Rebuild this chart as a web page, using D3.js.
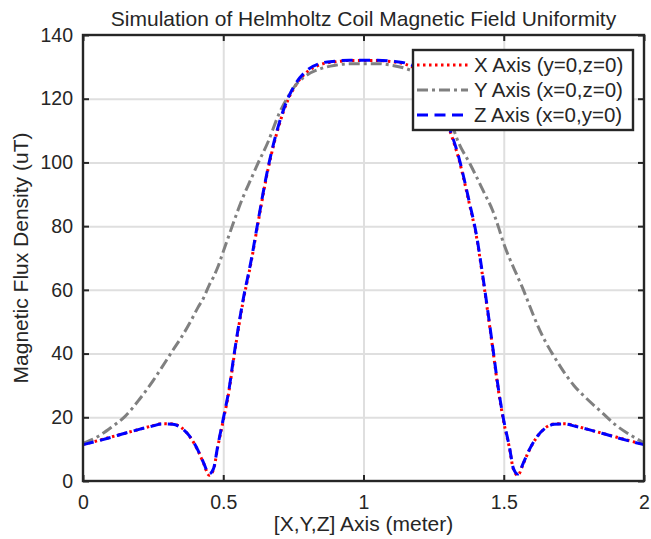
<!DOCTYPE html>
<html>
<head>
<meta charset="utf-8">
<script src="https://cdn.jsdelivr.net/npm/d3@7"></script>
<style>
  body { margin: 0; background: #fff; }
  svg text { font-family: "Liberation Sans", Arial, sans-serif; fill: #262626; }
</style>
</head>
<body>
<svg id="chart" width="651" height="539"></svg>
<script>
// positions along the axis (meter)
var positions = [0, 0.05, 0.1, 0.15, 0.2, 0.25, 0.28, 0.32, 0.35, 0.38, 0.41, 0.43, 0.45, 0.465, 0.48, 0.5,
    0.52, 0.54, 0.57, 0.6, 0.62, 0.66, 0.7, 0.73, 0.76, 0.8, 0.85, 0.9, 0.95, 1.0,
    1.05, 1.1, 1.15, 1.2, 1.24, 1.27, 1.3, 1.34, 1.38, 1.4, 1.43, 1.46, 1.48, 1.5,
    1.52, 1.535, 1.55, 1.57, 1.59, 1.62, 1.65, 1.68, 1.72, 1.75, 1.8, 1.85, 1.9, 1.95, 2.0];

var xAxisField = [11.5, 12.6, 13.8, 15.0, 16.2, 17.4, 18.0, 17.9, 16.8, 14.0, 9.5, 5.5, 1.8, 3.5, 10.5, 19,
    28, 40, 56, 69, 79, 98, 112, 119.5, 124.5, 128.5, 130.8, 131.6, 132, 132,
    132, 131.6, 130.8, 128.5, 124.5, 119.5, 112, 101, 86, 78, 61, 42, 29, 18.5,
    10.5, 3.5, 1.8, 5.5, 9.5, 14.0, 16.8, 17.9, 18.0, 17.4, 16.2, 15.0, 13.8, 12.6, 11.5];

var yAxisField = [11.8, 13.8, 16.8, 20.3, 25.5, 31.5, 35.5, 41, 45, 49.5, 54.5, 57.5, 61.5, 64, 67, 72,
    77, 82, 89, 95, 99, 106.5, 115.5, 120.5, 124.5, 127.5, 129.5, 130.5, 131, 131,
    131, 130.5, 129.5, 127.5, 124.5, 120.5, 115.5, 106, 99.5, 96, 90.5, 85, 80, 74.5,
    70, 67, 64, 60, 55.5, 49, 43.5, 39, 33.5, 30, 25.5, 21.5, 17.5, 14.5, 12];

var zAxisField = [11.4, 12.5, 13.7, 15.0, 16.2, 17.3, 17.9, 17.8, 16.7, 14.1, 9.6, 5.7, 2.2, 3.8, 10.8, 19.5,
    28.5, 40.5, 56.5, 69.5, 79.5, 98.5, 112.5, 120, 125, 129, 131.2, 131.8, 132.1, 132.1,
    132.1, 131.8, 131.2, 129, 125, 120, 112.5, 101.5, 86.5, 78.5, 61.5, 42.5, 29.5, 19,
    10.8, 3.8, 2.2, 5.7, 9.6, 14.1, 16.7, 17.8, 17.9, 17.3, 16.2, 15.0, 13.7, 12.5, 11.4];

var xTicks = [0, 0.5, 1, 1.5, 2];
var xTickLabels = ["0", "0.5", "1", "1.5", "2"];
var yTicks = [0, 20, 40, 60, 80, 100, 120, 140];

var seriesNames = ["X Axis (y=0,z=0)", "Y Axis (x=0,z=0)", "Z Axis (x=0,y=0)"];

function render() {
    var svg = d3.select("#chart");
    var mLeft = 83, mRight = 644, mTop = 35, mBottom = 481;
    var width = mRight - mLeft, height = mBottom - mTop;
    var ink = "#262626";

    var xs = d3.scaleLinear().domain([0, 2]).range([0, width]);
    var ys = d3.scaleLinear().domain([0, 140]).range([height, 0]);

    var g = svg.append("g").attr("transform", "translate(" + mLeft + "," + mTop + ")");

    // grid
    g.append("g").attr("class", "grid")
        .attr("transform", "translate(0," + height + ")")
        .call(d3.axisBottom(xs).tickValues(xTicks.slice(1, -1)).tickSize(-height).tickFormat(""));
    g.append("g").attr("class", "grid")
        .call(d3.axisLeft(ys).tickValues(yTicks.slice(1, -1)).tickSize(-width).tickFormat(""));
    g.selectAll(".grid .domain").remove();
    g.selectAll(".grid line").attr("stroke", "#dfdfdf").attr("stroke-width", 2);

    // curves
    var styles = [
        { data: xAxisField, color: "#ff0000", dash: "2.5,3.5" },
        { data: yAxisField, color: "#808080", dash: "11,4,3,4" },
        { data: zAxisField, color: "#0000ff", dash: "11,6.5" }
    ];
    var line = d3.line()
        .x(function(d) { return xs(d[0]); })
        .y(function(d) { return ys(d[1]); })
        .curve(d3.curveMonotoneX);

    styles.forEach(function(s) {
        g.append("path")
            .datum(positions.map(function(p, i) { return [p, s.data[i]]; }))
            .attr("fill", "none")
            .attr("stroke", s.color)
            .attr("stroke-width", 3)
            .attr("stroke-dasharray", s.dash)
            .attr("d", line);
    });

    // axes
    var axB = g.append("g").attr("transform", "translate(0," + height + ")")
        .call(d3.axisBottom(xs).tickValues(xTicks).tickSizeInner(-6).tickSizeOuter(0).tickPadding(14)
            .tickFormat(function(d, i) { return xTickLabels[i]; }));
    var axT = g.append("g")
        .call(d3.axisTop(xs).tickValues(xTicks).tickSizeInner(-6).tickSizeOuter(0).tickFormat(""));
    var axL = g.append("g")
        .call(d3.axisLeft(ys).tickValues(yTicks).tickSizeInner(-6).tickSizeOuter(0).tickPadding(10));
    var axR = g.append("g").attr("transform", "translate(" + width + ",0)")
        .call(d3.axisRight(ys).tickValues(yTicks).tickSizeInner(-6).tickSizeOuter(0).tickFormat(""));

    [axB, axT, axL, axR].forEach(function(a) {
        a.selectAll(".domain").remove();
        a.selectAll("line").attr("stroke", ink).attr("stroke-width", 2);
        a.selectAll("text").attr("font-size", 19.5).attr("fill", ink)
            .attr("font-family", "Liberation Sans, Arial, sans-serif");
    });

    g.append("rect")
        .attr("width", width).attr("height", height)
        .attr("fill", "none").attr("stroke", ink).attr("stroke-width", 2.4);

    // titles
    svg.append("text")
        .attr("x", mLeft + width / 2).attr("y", 26)
        .attr("text-anchor", "middle").attr("font-size", 21)
        .text("Simulation of Helmholtz Coil Magnetic Field Uniformity");

    svg.append("text")
        .attr("x", mLeft + width / 2).attr("y", 531)
        .attr("text-anchor", "middle").attr("font-size", 21)
        .text("[X,Y,Z] Axis (meter)");

    svg.append("text")
        .attr("transform", "translate(28," + (mTop + height / 2) + ") rotate(-90)")
        .attr("text-anchor", "middle").attr("font-size", 21)
        .text("Magnetic Flux Density (uT)");

    // legend
    var lg = svg.append("g").attr("transform", "translate(413,50)");
    lg.append("rect")
        .attr("width", 220).attr("height", 80)
        .attr("fill", "#fff").attr("stroke", ink).attr("stroke-width", 2.4);

    seriesNames.forEach(function(name, i) {
        var cy = 15 + i * 25;
        lg.append("line")
            .attr("x1", 4).attr("x2", 55).attr("y1", cy).attr("y2", cy)
            .attr("stroke", styles[i].color).attr("stroke-width", 3)
            .attr("stroke-dasharray", styles[i].dash);
        lg.append("text")
            .attr("x", 61).attr("y", cy).attr("dy", "0.35em")
            .attr("font-size", 20.5)
            .text(name);
    });
}

render();
</script>
</body>
</html>
